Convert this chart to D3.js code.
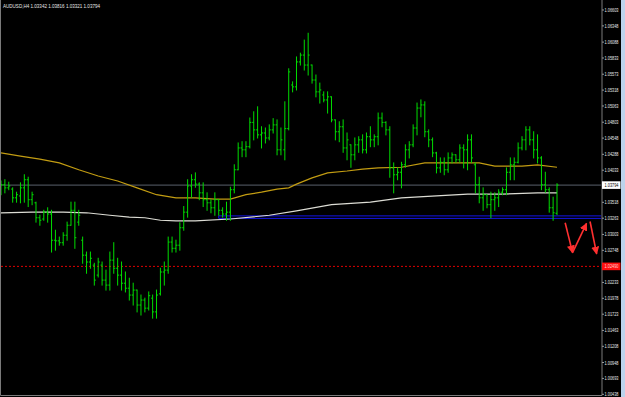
<!DOCTYPE html>
<html lang="en">
<head>
<meta charset="UTF-8">
<title>AUDUSD,H4</title>
<script src="https://d3js.org/d3.v7.min.js"></script>
<style>
  body { margin: 0; background: #000; }
  svg { display: block; font-family: "Liberation Sans", Arial, sans-serif; }
  .bar { stroke: #00dc00; stroke-width: 1px; fill: none; }
  .ma-gold { stroke: #c29c12; stroke-width: 1.2px; fill: none; }
  .ma-white { stroke: #dcdcd4; stroke-width: 1.2px; fill: none; }
  .bidline { stroke: #59606c; stroke-width: 1px; }
  .zone { stroke: #1414e6; stroke-width: 1px; fill: none; }
  .level { stroke: #e00000; stroke-width: 1px; stroke-dasharray: 2,2; }
  .arrow { stroke: #ff3030; stroke-width: 1.6px; }
  .tick-label { fill: #e8e8e8; font-size: 6px; }
</style>
</head>
<body>
<svg id="chart"></svg>
<script>
// bars (AUDUSD H4), oldest first
const opens = [
  1.0372,1.0380,1.0375,1.0373,1.0359,1.0362,1.0375,1.0388,1.0356,1.0351,
  1.0327,1.0325,1.0336,1.0333,1.0291,1.0290,1.0287,1.0299,1.0315,1.0339,
  1.0320,1.0291,1.0267,1.0256,1.0251,1.0235,1.0251,1.0227,1.0219,1.0259,
  1.0246,1.0235,1.0222,1.0214,1.0203,1.0211,1.0187,1.0195,1.0182,1.0198,
  1.0176,1.0205,1.0240,1.0243,1.0288,1.0278,1.0283,1.0311,1.0336,1.0378,
  1.0388,1.0381,1.0367,1.0356,1.0351,1.0343,1.0356,1.0339,1.0333,1.0336,
  1.0372,1.0404,1.0439,1.0436,1.0441,1.0480,1.0468,1.0460,1.0463,1.0455,
  1.0468,1.0476,1.0436,1.0436,1.0470,1.0540,1.0537,1.0577,1.0588,1.0572,
  1.0572,1.0548,1.0529,1.0524,1.0516,1.0521,1.0484,1.0465,1.0473,1.0439,
  1.0444,1.0428,1.0444,1.0452,1.0436,1.0457,1.0452,1.0457,1.0487,1.0480,
  1.0468,1.0407,1.0396,1.0400,1.0412,1.0436,1.0444,1.0471,1.0503,1.0508,
  1.0465,1.0452,1.0431,1.0407,1.0416,1.0404,1.0423,1.0428,1.0420,1.0439,
  1.0436,1.0452,1.0412,1.0380,1.0359,1.0364,1.0348,1.0356,1.0359,1.0368,
  1.0372,1.0400,1.0412,1.0416,1.0439,1.0452,1.0468,1.0452,1.0436,1.0423,
  1.0380,1.0372,1.0343,1.03342
];
const highs = [
  1.0386,1.0388,1.0384,1.0375,1.0368,1.0383,1.0396,1.0392,1.0368,1.0352,
  1.0331,1.0339,1.0343,1.0339,1.0307,1.0296,1.0303,1.0320,1.0352,1.0352,
  1.0339,1.0296,1.0272,1.0272,1.0254,1.0262,1.0256,1.0243,1.0272,1.0287,
  1.0262,1.0256,1.0240,1.0230,1.0222,1.0211,1.0203,1.0198,1.0208,1.0203,
  1.0211,1.0246,1.0256,1.0296,1.0296,1.0291,1.0319,1.0345,1.0388,1.0396,
  1.0399,1.0383,1.0383,1.0367,1.0356,1.0367,1.0356,1.0343,1.0352,1.0376,
  1.0412,1.0447,1.0449,1.0449,1.0487,1.0497,1.0505,1.0473,1.0471,1.0476,
  1.0486,1.0484,1.0471,1.0513,1.0566,1.0545,1.0585,1.0591,1.0612,1.0623,
  1.0572,1.0556,1.0543,1.0529,1.0529,1.0521,1.0484,1.0481,1.0484,1.0463,
  1.0444,1.0455,1.0457,1.0460,1.0463,1.0473,1.0460,1.0495,1.0495,1.0481,
  1.0473,1.0415,1.0407,1.0416,1.0444,1.0449,1.0476,1.0511,1.0516,1.0513,
  1.0468,1.0455,1.0432,1.0423,1.0423,1.0431,1.0431,1.0428,1.0444,1.0444,
  1.0460,1.0460,1.0415,1.0392,1.0375,1.0364,1.0368,1.0367,1.0372,1.0375,
  1.0407,1.0423,1.0423,1.0447,1.0457,1.0473,1.0473,1.0465,1.0460,1.0425,
  1.0400,1.0375,1.0360,1.03816
];
const lows = [
  1.0364,1.0367,1.0372,1.0352,1.0352,1.0351,1.0352,1.0345,1.0348,1.0320,
  1.0315,1.0323,1.0320,1.0272,1.0275,1.0283,1.0283,1.0291,1.0315,1.0278,
  1.0315,1.0254,1.0238,1.0246,1.0219,1.0232,1.0219,1.0211,1.0211,1.0238,
  1.0219,1.0211,1.0208,1.0195,1.0187,1.0176,1.0171,1.0176,1.0179,1.0166,
  1.0166,1.0203,1.0219,1.0238,1.0272,1.0272,1.0275,1.0307,1.0328,1.0360,
  1.0376,1.0356,1.0345,1.0339,1.0335,1.0331,1.0331,1.0328,1.0323,1.0323,
  1.0367,1.0404,1.0425,1.0425,1.0439,1.0452,1.0455,1.0439,1.0447,1.0452,
  1.0463,1.0428,1.0428,1.0420,1.0468,1.0529,1.0532,1.0572,1.0564,1.0556,
  1.0543,1.0521,1.0511,1.0513,1.0495,1.0481,1.0452,1.0449,1.0432,1.0420,
  1.0408,1.0420,1.0432,1.0431,1.0431,1.0441,1.0441,1.0444,1.0473,1.0460,
  1.0392,1.0367,1.0388,1.0375,1.0408,1.0423,1.0441,1.0460,1.0489,1.0457,
  1.0441,1.0425,1.0399,1.0400,1.0396,1.0400,1.0415,1.0416,1.0416,1.0407,
  1.0404,1.0416,1.0367,1.0351,1.0339,1.0343,1.0327,1.0339,1.0345,1.0364,
  1.0364,1.0388,1.0388,1.0415,1.0436,1.0436,1.0444,1.0423,1.0415,1.0372,
  1.0368,1.0336,1.0323,1.03321
];
const closes = [
  1.0380,1.0375,1.0378,1.0359,1.0364,1.0375,1.0388,1.0356,1.0364,1.0327,
  1.0323,1.0336,1.0333,1.0291,1.0290,1.0287,1.0299,1.0315,1.0339,1.0295,
  1.0331,1.0267,1.0256,1.0262,1.0227,1.0256,1.0227,1.0219,1.0259,1.0246,
  1.0235,1.0222,1.0214,1.0203,1.0211,1.0187,1.0195,1.0182,1.0202,1.0176,
  1.0203,1.0240,1.0243,1.0288,1.0278,1.0283,1.0311,1.0336,1.0378,1.0388,
  1.0381,1.0367,1.0356,1.0351,1.0343,1.0356,1.0339,1.0333,1.0336,1.0372,
  1.0404,1.0439,1.0436,1.0441,1.0480,1.0468,1.0460,1.0463,1.0455,1.0468,
  1.0476,1.0436,1.0452,1.0470,1.0561,1.0537,1.0577,1.0588,1.0572,1.0588,
  1.0548,1.0529,1.0532,1.0516,1.0521,1.0484,1.0465,1.0473,1.0439,1.0452,
  1.0428,1.0444,1.0452,1.0436,1.0457,1.0452,1.0457,1.0487,1.0480,1.0468,
  1.0407,1.0396,1.0400,1.0412,1.0436,1.0444,1.0471,1.0503,1.0508,1.0465,
  1.0452,1.0431,1.0407,1.0416,1.0404,1.0423,1.0428,1.0420,1.0439,1.0436,
  1.0452,1.0423,1.0380,1.0359,1.0364,1.0348,1.0356,1.0359,1.0368,1.0372,
  1.0400,1.0412,1.0416,1.0439,1.0452,1.0468,1.0452,1.0436,1.0423,1.0380,
  1.0372,1.0343,1.0335,1.03794
];

// moving averages, read at some bar indices
const maGoldIdx = [0,5,10,15,20,25,30,35,40,45,50,55,59,63,67,71,74,76,80,84,89,93,97,103,109,115,123,127,134,138,143];
const maGoldVal = [1.0431,1.0426,1.0421,1.0415,1.0404,1.0394,1.0386,1.0375,1.0364,1.0359,1.0359,1.0357,1.0357,1.0364,1.0368,1.0373,1.0375,1.0381,1.0391,1.0399,1.0402,1.0405,1.0407,1.0408,1.0415,1.0415,1.0415,1.0410,1.0410,1.0412,1.0408];
const maWhiteIdx = [0,8,16,22,28,33,37,41,45,50,59,69,76,85,92,95,103,112,120,129,138,143];
const maWhiteVal = [1.0335,1.0336,1.0336,1.0335,1.0331,1.0328,1.0327,1.0323,1.0322,1.0322,1.0325,1.0331,1.0338,1.0348,1.0351,1.0352,1.0359,1.0362,1.0365,1.0365,1.0367,1.0367];

// levels
const title = "AUDUSD,H4  1.03342 1.03816 1.03321 1.03794";
const bidPrice = 1.03794;
const zoneTop = 1.0330, zoneBottom = 1.0326, zoneStart = 56;
const redLevel = 1.02490;
const arrows = [
  {x1: 145.1, y1: 1.0319, x2: 147.0, y2: 1.0271},
  {x1: 147.0, y1: 1.0271, x2: 150.6, y2: 1.0318},
  {x1: 151.5, y1: 1.0321, x2: 153.2, y2: 1.0269}
];
const tickLabels = ["1.06603","1.06348","1.06088","1.05833","1.05573","1.05318","1.05063","1.04803",
  "1.04548","1.04288","1.04033","1.03518","1.03263","1.03003","1.02748",
  "1.02233","1.01978","1.01723","1.01463","1.01208","1.00948","1.00693","1.00438"];

const width = 625, height = 397;
const plotRight = 601.5, plotBottom = 395.5;

const svg = d3.select("#chart").attr("width", width).attr("height", height);
svg.append("rect").attr("width", width).attr("height", height).attr("fill", "#000");
svg.append("rect").attr("x", 621).attr("y", 0).attr("width", 4).attr("height", height).attr("fill", "#bcd3ec");

const x = d3.scaleLinear().domain([0, 143]).range([1, 557]);
const y = d3.scaleLinear().domain([1.00438, 1.06603]).range([394.3, 10]);

svg.append("clipPath").attr("id", "plotclip")
  .append("rect").attr("x", 1).attr("y", 1).attr("width", plotRight - 1).attr("height", plotBottom - 1);
const plot = svg.append("g").attr("clip-path", "url(#plotclip)");

// horizontal lines
plot.append("line").attr("class", "bidline")
  .attr("x1", 1).attr("x2", plotRight).attr("y1", y(bidPrice)).attr("y2", y(bidPrice));
plot.append("line").attr("class", "level")
  .attr("x1", 1).attr("x2", plotRight).attr("y1", y(redLevel)).attr("y2", y(redLevel));
plot.append("path").attr("class", "zone")
  .attr("d", `M${plotRight},${y(zoneTop)}H${x(zoneStart)}V${y(zoneBottom)}H${plotRight}`);

// moving averages
const line = d3.line().x(d => x(d[0])).y(d => y(d[1]));
plot.append("path").attr("class", "ma-gold")
  .attr("d", line(maGoldIdx.map((v, i) => [v, maGoldVal[i]])));
plot.append("path").attr("class", "ma-white")
  .attr("d", line(maWhiteIdx.map((v, i) => [v, maWhiteVal[i]])));

// OHLC bars
const bars = opens.map((o, i) => ({i: i, o: o, h: highs[i], l: lows[i], c: closes[i]}));
plot.selectAll(".bar")
  .data(bars)
  .join("path")
  .attr("class", "bar")
  .attr("d", d => {
    const cx = x(d.i);
    return `M${cx},${y(d.h) - 0.5}V${y(d.l) + 0.5}` +
      `M${cx - 1.5},${y(d.o)}H${cx}M${cx},${y(d.c)}H${cx + 1.5}`;
  });

// arrows
const defs = svg.append("defs");
defs.append("marker").attr("id", "head")
  .attr("viewBox", "0 0 10 10").attr("refX", 9).attr("refY", 5)
  .attr("markerWidth", 5).attr("markerHeight", 5).attr("orient", "auto")
  .append("path").attr("d", "M0,0L10,5L0,10Z").attr("fill", "#ff3030");
plot.selectAll(".arrow")
  .data(arrows)
  .join("line")
  .attr("class", "arrow")
  .attr("x1", d => x(d.x1)).attr("y1", d => y(d.y1))
  .attr("x2", d => x(d.x2)).attr("y2", d => y(d.y2))
  .attr("marker-end", "url(#head)");

// frame
svg.append("path")
  .attr("d", `M0.5,0V${plotBottom}H${plotRight + 0.5}V0`)
  .attr("fill", "none").attr("stroke", "#7a7a7a").attr("stroke-width", 1);

// price axis
const axis = svg.append("g");
axis.selectAll(".tick")
  .data(tickLabels)
  .join("line")
  .attr("x1", plotRight + 0.5).attr("x2", plotRight + 2.5)
  .attr("y1", d => y(+d)).attr("y2", d => y(+d))
  .attr("stroke", "#9a9a9a");
axis.selectAll(".tick-label")
  .data(tickLabels)
  .join("text")
  .attr("class", "tick-label")
  .attr("x", 604.5).attr("y", d => Math.min(y(+d) + 2, 395.5))
  .attr("textLength", 14).attr("lengthAdjust", "spacingAndGlyphs")
  .text(d => d);

// price tags
function tag(price, bg, fg) {
  axis.append("rect").attr("x", plotRight + 0.5).attr("y", y(price) - 3.8)
    .attr("width", 18.5).attr("height", 7.6).attr("fill", bg);
  axis.append("text").attr("x", 604.5).attr("y", y(price) + 2)
    .attr("font-size", "6px").attr("fill", fg)
    .attr("textLength", 14).attr("lengthAdjust", "spacingAndGlyphs")
    .text(price.toFixed(5));
}
tag(bidPrice, "#ffffff", "#000000");
tag(redLevel, "#ff1010", "#ffd0d0");

// title
svg.append("text").attr("x", 3).attr("y", 8)
  .attr("font-size", "6px").attr("fill", "#e8e8e8")
  .attr("textLength", 97).attr("lengthAdjust", "spacingAndGlyphs")
  .text(title);
</script>
</body>
</html>
